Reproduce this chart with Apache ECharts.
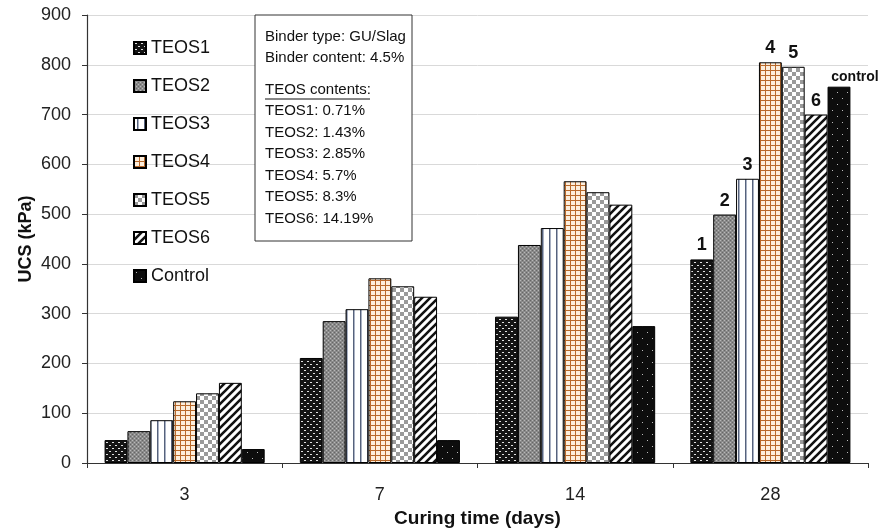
<!DOCTYPE html>
<html>
<head>
<meta charset="utf-8">
<script src="https://cdn.jsdelivr.net/npm/echarts@6/dist/echarts.min.js"></script>
<style>
html,body{margin:0;padding:0;background:#fff;}
#main{width:883px;height:529px;}
</style>
</head>
<body>
<div id="main"></div>
<script>
// ---- data ----
const categories = ['3', '7', '14', '28'];
const seriesNames = ['TEOS1', 'TEOS2', 'TEOS3', 'TEOS4', 'TEOS5', 'TEOS6', 'Control'];
const teos1 = [46, 211, 294, 409];
const teos2 = [64, 285, 438, 499];
const teos3 = [86, 309, 472, 571];
const teos4 = [124, 371, 566, 805];
const teos5 = [140, 355, 544, 796];
const teos6 = [161, 334, 519, 700];
const control = [28, 46, 275, 756];
const day28Labels = ['1', '2', '3', '4', '5', '6', 'control'];
const yTicks = [0, 100, 200, 300, 400, 500, 600, 700, 800, 900];
const boxLines = ['Binder type: GU/Slag', 'Binder content: 4.5%'];
const boxHeading = 'TEOS contents:';
const boxContents = ['TEOS1: 0.71%', 'TEOS2: 1.43%', 'TEOS3: 2.85%', 'TEOS4: 5.7%', 'TEOS5: 8.3%', 'TEOS6: 14.19%'];

// ---- patterns ----
function pat(w, h, draw) {
  const c = document.createElement('canvas');
  c.width = w; c.height = h;
  const g = c.getContext('2d');
  draw(g, w, h);
  return { image: c, repeat: 'repeat' };
}
const patterns = [
  pat(6, 6, g => { g.fillStyle = '#141414'; g.fillRect(0, 0, 6, 6); g.fillStyle = '#e0e0e0'; g.fillRect(1, 1, 2, 1); g.fillRect(4, 4, 2, 1); }),
  pat(4, 4, g => { g.fillStyle = '#8a8a8a'; g.fillRect(0, 0, 4, 4); g.fillStyle = '#b8b8b8'; g.fillRect(0, 0, 1, 1); g.fillRect(2, 2, 1, 1); g.fillStyle = '#666'; g.fillRect(2, 0, 1, 1); g.fillRect(0, 2, 1, 1); }),
  pat(7, 7, g => { g.fillStyle = '#ffffff'; g.fillRect(0, 0, 7, 7); g.fillStyle = '#56627c'; g.fillRect(3, 0, 1, 7); g.fillStyle = '#aab2c4'; g.fillRect(4, 0, 1, 7); }),
  pat(5, 5, g => { g.fillStyle = '#fdeedc'; g.fillRect(0, 0, 5, 5); g.fillStyle = '#b8692b'; g.fillRect(0, 0, 5, 1); g.fillRect(0, 0, 1, 5); }),
  pat(8, 8, g => { g.fillStyle = '#ffffff'; g.fillRect(0, 0, 8, 8); g.fillStyle = '#9a9a9a'; g.fillRect(0, 0, 4, 4); g.fillRect(4, 4, 4, 4); }),
  pat(8, 8, g => { g.fillStyle = '#ffffff'; g.fillRect(0, 0, 8, 8); g.strokeStyle = '#111'; g.lineWidth = 2.6; g.beginPath(); g.moveTo(-2, 10); g.lineTo(10, -2); g.moveTo(-6, 6); g.lineTo(6, -6); g.moveTo(2, 14); g.lineTo(14, 2); g.stroke(); }),
  pat(10, 12, g => { g.fillStyle = '#0d0d0d'; g.fillRect(0, 0, 10, 12); g.fillStyle = '#bbbbbb'; g.fillRect(2, 2, 1, 1); g.fillRect(7, 8, 1, 1); })
];
const values = [teos1, teos2, teos3, teos4, teos5, teos6, control];

const FONT = 'Liberation Sans, Arial, sans-serif';

const series = seriesNames.map((name, i) => ({
  name: name,
  type: 'bar',
  barGap: '0%',
  barCategoryGap: '18%',
  itemStyle: { color: patterns[i], borderColor: '#000', borderWidth: 1 },
  data: values[i].map((v, j) => {
    if (j === categories.length - 1) {
      return {
        value: v,
        label: {
          show: true, position: 'top', formatter: day28Labels[i],
          fontWeight: 'bold', color: '#111',
          fontFamily: FONT,
          fontSize: i === 6 ? 14 : 18,
          distance: i === 6 ? 3 : 5,
          offset: i === 6 ? [16, 0] : [0, 0]
        }
      };
    }
    return v;
  })
}));

const boxX = 255, boxY = 15, boxW = 157, boxH = 226;
const textX = 265;
const graphic = [
  { type: 'rect', shape: { x: boxX, y: boxY, width: boxW, height: boxH }, style: { fill: '#fff', stroke: '#333', lineWidth: 1 }, z: 10 }
];
const lineYs = [37, 58];
boxLines.forEach((t, k) => graphic.push({ type: 'text', x: textX, y: lineYs[k], style: { text: t, font: '15px ' + FONT, fill: '#111', textVerticalAlign: 'middle' }, z: 11 }));
graphic.push({ type: 'text', x: textX, y: 90, style: { text: boxHeading, font: '15px ' + FONT, fill: '#111', textVerticalAlign: 'middle' }, z: 11 });
graphic.push({ type: 'line', shape: { x1: textX, y1: 99, x2: textX + 105, y2: 99 }, style: { stroke: '#111', lineWidth: 1 }, z: 11 });
boxContents.forEach((t, k) => graphic.push({ type: 'text', x: textX, y: 111 + k * 21.5, style: { text: t, font: '15px ' + FONT, fill: '#111', textVerticalAlign: 'middle' }, z: 11 }));

const chart = echarts.init(document.getElementById('main'));
chart.setOption({
  animation: false,
  backgroundColor: '#fff',
  textStyle: { fontFamily: FONT },
  grid: { left: 87, right: 15, top: 15, bottom: 66, containLabel: false, outerBoundsMode: 'none' },
  legend: {
    data: seriesNames,
    orient: 'vertical',
    left: 128, top: 34,
    itemWidth: 12, itemHeight: 12,
    itemGap: 20,
    icon: 'rect',
    textStyle: { fontSize: 18, color: '#111', fontFamily: FONT }
  },
  xAxis: {
    type: 'category',
    data: categories,
    name: 'Curing time (days)',
    nameLocation: 'middle',
    nameGap: 46,
    nameMoveOverlap: false,
    nameTextStyle: { fontSize: 19, fontWeight: 'bold', color: '#111', fontFamily: FONT },
    axisLine: { lineStyle: { color: '#333', width: 1.2 } },
    axisTick: { show: true, length: 5, lineStyle: { color: '#333' } },
    axisLabel: { fontSize: 18, color: '#222', margin: 23, fontFamily: FONT }
  },
  yAxis: {
    type: 'value',
    min: yTicks[0], max: yTicks[yTicks.length - 1], interval: yTicks[1] - yTicks[0],
    name: 'UCS (kPa)',
    nameLocation: 'middle',
    nameGap: 52,
    nameMoveOverlap: false,
    nameTextStyle: { fontSize: 18, fontWeight: 'bold', color: '#111', fontFamily: FONT },
    axisLine: { show: true, lineStyle: { color: '#333', width: 1.2 } },
    axisTick: { show: true, length: 5, lineStyle: { color: '#333' } },
    axisLabel: { fontSize: 18, color: '#222', margin: 16, fontFamily: FONT },
    splitLine: { lineStyle: { color: '#d9d9d9', width: 1 } }
  },
  graphic: graphic,
  series: series
});
</script>
</body>
</html>
